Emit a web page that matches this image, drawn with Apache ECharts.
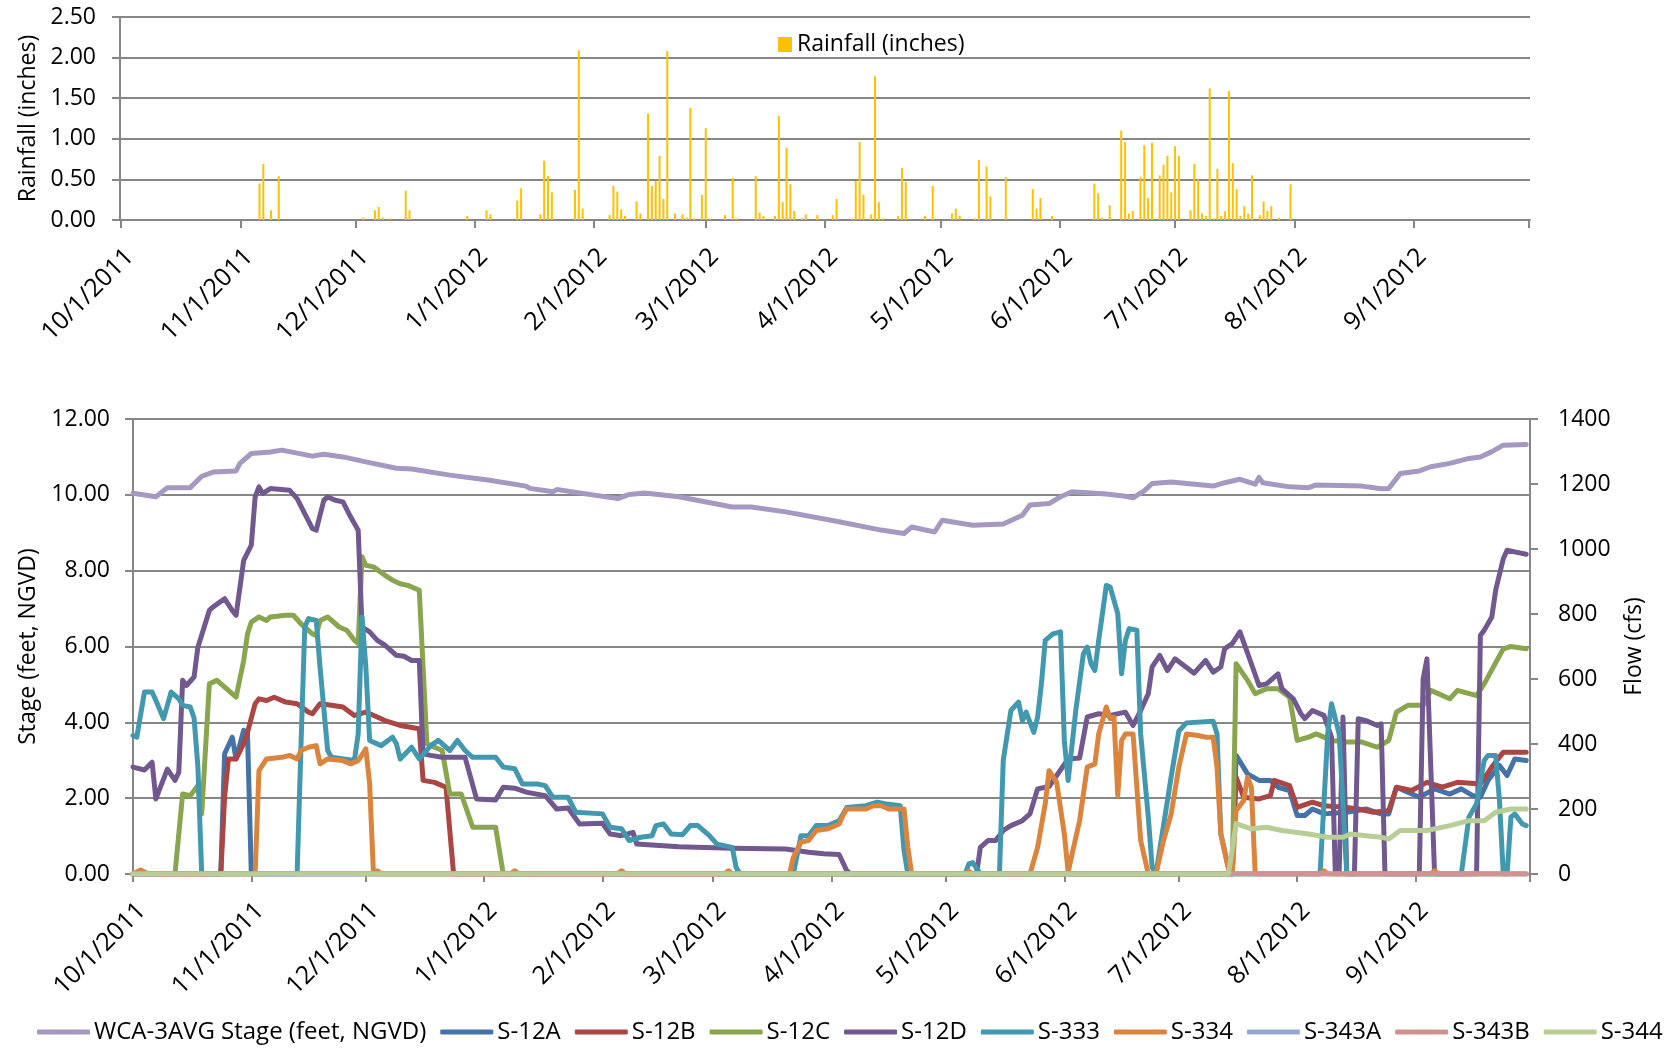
<!DOCTYPE html>
<html>
<head>
<meta charset="utf-8">
<title>WCA-3A rainfall, stage and structure flows</title>
<script src="https://cdn.jsdelivr.net/npm/echarts@6/dist/echarts.min.js"></script>
<style>
  html, body { margin: 0; padding: 0; background: #fff; }
  #main { width: 1671px; height: 1048px; }
</style>
</head>
<body>
<div id="main"></div>
<script>
// daily rainfall (inches), only days with rain
const rainfall = [
  ['2011-11-06',0.45],['2011-11-07',0.69],['2011-11-09',0.12],['2011-11-11',0.54],
  ['2011-12-03',0.03],['2011-12-06',0.12],['2011-12-07',0.16],['2011-12-08',0.03],['2011-12-10',0.02],['2011-12-14',0.36],['2011-12-15',0.12],['2011-12-30',0.05],
  ['2012-01-04',0.12],['2012-01-05',0.07],['2012-01-12',0.24],['2012-01-13',0.39],['2012-01-18',0.07],['2012-01-19',0.73],['2012-01-20',0.54],['2012-01-21',0.34],['2012-01-27',0.37],['2012-01-28',2.09],['2012-01-29',0.14],
  ['2012-02-05',0.06],['2012-02-06',0.42],['2012-02-07',0.35],['2012-02-08',0.13],['2012-02-09',0.05],['2012-02-12',0.23],['2012-02-13',0.08],['2012-02-15',1.31],['2012-02-16',0.42],['2012-02-17',0.48],['2012-02-18',0.79],['2012-02-19',0.26],['2012-02-20',2.08],['2012-02-22',0.08],['2012-02-24',0.07],['2012-02-25',0.03],['2012-02-26',1.38],['2012-02-27',0.02],['2012-02-29',0.31],
  ['2012-03-01',1.13],['2012-03-02',0.02],['2012-03-06',0.06],['2012-03-08',0.52],['2012-03-09',0.02],['2012-03-14',0.54],['2012-03-15',0.09],['2012-03-16',0.05],['2012-03-19',0.05],['2012-03-20',1.28],['2012-03-21',0.22],['2012-03-22',0.89],['2012-03-23',0.44],['2012-03-24',0.11],['2012-03-26',0.02],['2012-03-27',0.07],['2012-03-30',0.06],
  ['2012-04-03',0.06],['2012-04-04',0.26],['2012-04-08',0.02],['2012-04-09',0.48],['2012-04-10',0.96],['2012-04-11',0.31],['2012-04-13',0.07],['2012-04-14',1.77],['2012-04-15',0.22],['2012-04-16',0.02],['2012-04-20',0.05],['2012-04-21',0.64],['2012-04-22',0.47],['2012-04-27',0.05],['2012-04-29',0.42],
  ['2012-05-04',0.08],['2012-05-05',0.14],['2012-05-06',0.05],['2012-05-10',0.02],['2012-05-11',0.74],['2012-05-13',0.66],['2012-05-14',0.29],['2012-05-18',0.53],['2012-05-25',0.38],['2012-05-26',0.14],['2012-05-27',0.27],['2012-05-30',0.05],
  ['2012-06-10',0.45],['2012-06-11',0.33],['2012-06-12',0.03],['2012-06-14',0.18],['2012-06-17',1.10],['2012-06-18',0.96],['2012-06-19',0.08],['2012-06-20',0.11],['2012-06-22',0.53],['2012-06-23',0.92],['2012-06-24',0.27],['2012-06-25',0.95],['2012-06-27',0.55],['2012-06-28',0.68],['2012-06-29',0.79],['2012-06-30',0.34],
  ['2012-07-01',0.91],['2012-07-02',0.79],['2012-07-05',0.12],['2012-07-06',0.69],['2012-07-07',0.50],['2012-07-08',0.08],['2012-07-09',0.05],['2012-07-10',1.62],['2012-07-11',0.02],['2012-07-12',0.63],['2012-07-13',0.05],['2012-07-14',0.11],['2012-07-15',1.59],['2012-07-16',0.70],['2012-07-17',0.38],['2012-07-18',0.05],['2012-07-19',0.17],['2012-07-20',0.08],['2012-07-21',0.55],['2012-07-23',0.06],['2012-07-24',0.23],['2012-07-25',0.11],['2012-07-26',0.17],['2012-07-28',0.03],['2012-07-31',0.44]
];

// WCA-3 average stage (feet, NGVD)
const wcaStage = [
  ['2011-10-01',10.04],['2011-10-07',9.95],['2011-10-10',10.19],['2011-10-16',10.19],['2011-10-19',10.49],['2011-10-22',10.60],['2011-10-28',10.63],['2011-10-29',10.83],
  ['2011-11-01',11.09],['2011-11-06',11.13],['2011-11-09',11.18],['2011-11-17',11.02],['2011-11-20',11.07],['2011-11-25',11.00],
  ['2011-12-01',10.87],['2011-12-09',10.70],['2011-12-13',10.68],['2011-12-23',10.52],
  ['2012-01-02',10.39],['2012-01-12',10.23],['2012-01-13',10.17],['2012-01-19',10.08],['2012-01-20',10.14],
  ['2012-02-05',9.90],['2012-02-08',10.01],['2012-02-12',10.05],['2012-02-21',9.95],
  ['2012-03-06',9.68],['2012-03-11',9.68],['2012-03-20',9.55],
  ['2012-04-03',9.29],['2012-04-14',9.07],['2012-04-20',8.98],['2012-04-22',9.15],['2012-04-28',9.02],['2012-04-30',9.33],
  ['2012-05-08',9.20],['2012-05-16',9.23],['2012-05-21',9.46],['2012-05-23',9.73],['2012-05-28',9.77],['2012-05-31',9.95],
  ['2012-06-03',10.08],['2012-06-12',10.02],['2012-06-17',9.96],['2012-06-19',9.92],['2012-06-22',10.11],['2012-06-24',10.30],['2012-06-29',10.34],
  ['2012-07-10',10.23],['2012-07-13',10.32],['2012-07-17',10.41],['2012-07-21',10.28],['2012-07-22',10.46],['2012-07-23',10.32],['2012-07-30',10.21],
  ['2012-08-04',10.19],['2012-08-06',10.26],['2012-08-18',10.23],['2012-08-23',10.16],['2012-08-25',10.17],['2012-08-28',10.56],
  ['2012-09-02',10.63],['2012-09-05',10.74],['2012-09-10',10.83],['2012-09-15',10.96],['2012-09-18',11.00],['2012-09-21',11.14],['2012-09-24',11.31],['2012-09-30',11.33]
];

// structure flows (cfs)
const s12a = [
  ['2011-10-01',0],['2011-10-24',0],['2011-10-25',370],['2011-10-27',421],['2011-10-28',354],['2011-10-30',442],['2011-10-31',430],['2011-11-01',0],
  ['2012-07-15',0],['2012-07-16',365],['2012-07-19',308],['2012-07-22',288],['2012-07-25',288],['2012-07-27',267],['2012-07-30',257],
  ['2012-08-01',180],['2012-08-03',180],['2012-08-05',200],['2012-08-08',185],['2012-08-14',190],['2012-08-19',200],['2012-08-23',185],['2012-08-25',185],['2012-08-27',267],['2012-08-30',252],
  ['2012-09-02',236],['2012-09-06',262],['2012-09-10',246],['2012-09-13',262],['2012-09-16',241],['2012-09-18',236],['2012-09-20',288],['2012-09-23',334],['2012-09-25',303],['2012-09-27',354],['2012-09-30',349]
];
const s12b = [
  ['2011-10-01',0],['2011-10-24',0],['2011-10-25',236],['2011-10-26',354],['2011-10-28',354],['2011-10-30',401],['2011-10-31',436],
  ['2011-11-02',524],['2011-11-03',539],['2011-11-05',534],['2011-11-07',544],['2011-11-10',529],['2011-11-13',524],['2011-11-16',498],['2011-11-17',493],['2011-11-19',524],['2011-11-22',519],['2011-11-25',514],['2011-11-28',488],
  ['2011-12-01',498],['2011-12-04',483],['2011-12-06',472],['2011-12-10',457],['2011-12-15',447],['2011-12-16',288],['2011-12-19',282],['2011-12-22',267],['2011-12-24',0],
  ['2012-07-15',0],['2012-07-16',298],['2012-07-18',236],['2012-07-22',231],['2012-07-25',241],['2012-07-26',288],['2012-07-30',272],
  ['2012-08-01',205],['2012-08-05',221],['2012-08-08',210],['2012-08-14',205],['2012-08-17',200],['2012-08-21',190],['2012-08-25',195],['2012-08-27',267],['2012-08-31',257],
  ['2012-09-04',282],['2012-09-08',267],['2012-09-12',282],['2012-09-18',277],['2012-09-21',329],['2012-09-24',375],['2012-09-30',375]
];
const s12c = [
  ['2011-10-01',0],['2011-10-12',0],['2011-10-14',246],['2011-10-16',241],['2011-10-18',272],['2011-10-19',185],['2011-10-21',585],['2011-10-23',596],['2011-10-26',565],['2011-10-28',544],['2011-10-30',657],['2011-10-31',739],
  ['2011-11-01',775],['2011-11-03',791],['2011-11-05',780],['2011-11-06',791],['2011-11-10',796],['2011-11-12',796],['2011-11-14',770],['2011-11-17',739],['2011-11-18',734],['2011-11-19',780],['2011-11-21',791],['2011-11-24',760],['2011-11-26',750],['2011-11-28',719],['2011-11-29',709],['2011-11-30',976],
  ['2011-12-01',950],['2011-12-03',945],['2011-12-06',919],['2011-12-08',904],['2011-12-10',893],['2011-12-12',888],['2011-12-15',873],['2011-12-17',401],['2011-12-19',390],['2011-12-21',380],['2011-12-23',246],['2011-12-26',246],['2011-12-29',144],
  ['2012-01-04',144],['2012-01-06',0],
  ['2012-07-15',0],['2012-07-16',647],['2012-07-19',596],['2012-07-21',555],['2012-07-24',570],['2012-07-27',570],['2012-07-30',544],
  ['2012-08-01',411],['2012-08-04',421],['2012-08-06',431],['2012-08-10',411],['2012-08-14',406],['2012-08-18',406],['2012-08-22',390],['2012-08-25',411],['2012-08-27',498],['2012-08-30',519],
  ['2012-09-03',519],['2012-09-05',565],['2012-09-10',539],['2012-09-12',565],['2012-09-17',549],['2012-09-19',585],['2012-09-24',693],['2012-09-26',700],['2012-09-30',693]
];
const s12d = [
  ['2011-10-01',329],['2011-10-04',320],['2011-10-06',344],['2011-10-07',231],['2011-10-10',323],['2011-10-12',288],['2011-10-13',313],['2011-10-14',596],['2011-10-15',580],['2011-10-17',606],['2011-10-18',698],['2011-10-21',811],['2011-10-22',822],['2011-10-25',847],['2011-10-27',811],['2011-10-28',796],['2011-10-30',965],
  ['2011-11-01',1012],['2011-11-02',1160],['2011-11-03',1191],['2011-11-04',1171],['2011-11-06',1186],['2011-11-11',1181],['2011-11-13',1155],['2011-11-15',1109],['2011-11-17',1063],['2011-11-18',1058],['2011-11-20',1150],['2011-11-21',1160],['2011-11-23',1150],['2011-11-25',1145],['2011-11-27',1099],['2011-11-29',1058],['2011-11-30',760],
  ['2011-12-02',745],['2011-12-04',719],['2011-12-06',704],['2011-12-09',673],['2011-12-11',670],['2011-12-13',657],['2011-12-15',657],['2011-12-16',370],['2011-12-18',365],['2011-12-21',359],['2011-12-27',359],['2011-12-30',231],
  ['2012-01-04',228],['2012-01-06',267],['2012-01-09',264],['2012-01-12',252],['2012-01-17',241],['2012-01-20',200],['2012-01-23',203],['2012-01-26',154],
  ['2012-02-01',156],['2012-02-03',123],['2012-02-06',118],['2012-02-09',128],['2012-02-10',92],['2012-02-21',84],
  ['2012-03-06',79],['2012-03-20',77],['2012-03-26',67],['2012-03-30',62],['2012-04-03',60],['2012-04-05',10],['2012-04-06',0],
  ['2012-05-09',0],['2012-05-10',82],['2012-05-12',103],['2012-05-14',103],['2012-05-16',134],['2012-05-18',149],['2012-05-21',164],['2012-05-23',185],['2012-05-25',262],['2012-05-28',269],['2012-05-30',303],
  ['2012-06-02',354],['2012-06-05',357],['2012-06-07',483],['2012-06-10',493],['2012-06-13',488],['2012-06-17',498],['2012-06-19',457],['2012-06-21',503],['2012-06-23',555],['2012-06-24',637],['2012-06-26',673],['2012-06-28',626],['2012-06-30',662],
  ['2012-07-05',618],['2012-07-08',657],['2012-07-10',621],['2012-07-12',637],['2012-07-13',693],['2012-07-15',709],['2012-07-17',745],['2012-07-20',647],['2012-07-22',580],['2012-07-24',585],['2012-07-27',616],['2012-07-28',570],['2012-07-31',539],
  ['2012-08-02',493],['2012-08-03',478],['2012-08-05',503],['2012-08-08',488],['2012-08-10',421],['2012-08-11',0],['2012-08-12',0],['2012-08-13',483],['2012-08-14',0],['2012-08-16',0],['2012-08-17',478],['2012-08-19',472],['2012-08-22',457],['2012-08-23',462],['2012-08-24',0],
  ['2012-09-02',0],['2012-09-03',600],['2012-09-04',662],['2012-09-06',0],['2012-09-17',0],['2012-09-18',734],['2012-09-19',750],['2012-09-21',791],['2012-09-22',873],['2012-09-24',970],['2012-09-25',996],['2012-09-27',991],['2012-09-30',984]
];
const s333 = [
  ['2011-10-01',426],['2011-10-02',421],['2011-10-04',560],['2011-10-06',560],['2011-10-07',534],['2011-10-09',478],['2011-10-11',560],['2011-10-13',539],['2011-10-14',519],['2011-10-16',514],['2011-10-17',480],['2011-10-18',330],['2011-10-19',0],
  ['2011-11-13',0],['2011-11-14',390],['2011-11-15',760],['2011-11-16',786],['2011-11-18',780],['2011-11-19',637],['2011-11-21',380],['2011-11-22',359],['2011-11-28',349],['2011-11-29',431],['2011-11-30',791],
  ['2011-12-01',637],['2011-12-02',411],['2011-12-05',395],['2011-12-08',421],['2011-12-09',401],['2011-12-10',354],['2011-12-13',390],['2011-12-15',354],['2011-12-18',395],['2011-12-20',411],['2011-12-23',380],['2011-12-25',411],['2011-12-27',380],['2011-12-29',359],
  ['2012-01-04',359],['2012-01-06',329],['2012-01-09',324],['2012-01-11',277],['2012-01-15',277],['2012-01-17',272],['2012-01-19',236],['2012-01-23',236],['2012-01-25',190],
  ['2012-02-01',185],['2012-02-03',144],['2012-02-06',139],['2012-02-08',103],['2012-02-11',113],['2012-02-14',118],['2012-02-15',149],['2012-02-17',154],['2012-02-19',123],['2012-02-22',121],['2012-02-24',149],['2012-02-26',149],['2012-02-29',118],
  ['2012-03-02',92],['2012-03-06',82],['2012-03-07',21],['2012-03-08',0],['2012-03-22',0],['2012-03-24',118],['2012-03-26',118],['2012-03-28',149],['2012-03-31',149],
  ['2012-04-03',164],['2012-04-05',205],['2012-04-10',210],['2012-04-13',221],['2012-04-15',216],['2012-04-19',210],['2012-04-20',72],['2012-04-21',0],
  ['2012-05-06',0],['2012-05-07',31],['2012-05-08',35],['2012-05-10',0],['2012-05-15',0],['2012-05-16',350],['2012-05-18',503],['2012-05-20',529],['2012-05-21',472],['2012-05-22',498],['2012-05-24',436],['2012-05-25',483],['2012-05-26',585],['2012-05-27',719],['2012-05-29',739],['2012-05-31',745],
  ['2012-06-01',411],['2012-06-02',288],['2012-06-04',503],['2012-06-06',678],['2012-06-07',698],['2012-06-08',647],['2012-06-09',626],['2012-06-10',719],['2012-06-12',888],['2012-06-13',883],['2012-06-15',801],['2012-06-16',616],['2012-06-17',719],['2012-06-18',755],['2012-06-20',750],['2012-06-21',431],['2012-06-23',175],['2012-06-24',21],['2012-06-25',0],['2012-06-27',150],['2012-06-29',300],
  ['2012-07-01',440],['2012-07-03',465],['2012-07-10',470],['2012-07-11',431],['2012-07-12',123],['2012-07-14',20],['2012-07-15',0],
  ['2012-08-07',0],['2012-08-09',431],['2012-08-10',524],['2012-08-12',431],['2012-08-14',0],
  ['2012-09-13',0],['2012-09-15',175],['2012-09-17',216],['2012-09-19',349],['2012-09-20',365],['2012-09-22',365],['2012-09-23',226],['2012-09-24',0],['2012-09-25',0],['2012-09-26',175],['2012-09-27',185],['2012-09-29',154],['2012-09-30',149]
];
const s334 = [
  ['2011-10-01',0],['2011-10-03',12],['2011-10-05',0],
  ['2011-11-02',0],['2011-11-03',318],['2011-11-05',354],['2011-11-09',359],['2011-11-11',365],['2011-11-13',354],['2011-11-14',380],['2011-11-16',390],['2011-11-18',395],['2011-11-19',339],['2011-11-21',354],['2011-11-25',349],['2011-11-27',339],['2011-11-29',349],
  ['2011-12-01',385],['2011-12-02',277],['2011-12-03',0],['2011-12-04',10],['2011-12-05',0],
  ['2012-01-08',0],['2012-01-09',10],['2012-01-10',0],['2012-02-05',0],['2012-02-06',10],['2012-02-07',0],['2012-03-04',0],['2012-03-05',10],['2012-03-06',0],
  ['2012-03-21',0],['2012-03-22',51],['2012-03-24',98],['2012-03-26',103],['2012-03-28',134],['2012-03-31',139],
  ['2012-04-03',154],['2012-04-04',180],['2012-04-05',200],['2012-04-10',200],['2012-04-12',210],['2012-04-14',210],['2012-04-16',200],['2012-04-20',200],['2012-04-21',82],['2012-04-22',0],
  ['2012-05-06',0],['2012-05-07',8],['2012-05-08',0],['2012-05-23',0],['2012-05-25',82],['2012-05-27',216],['2012-05-28',318],['2012-05-30',282],
  ['2012-06-01',123],['2012-06-02',5],['2012-06-03',60],['2012-06-05',164],['2012-06-07',329],['2012-06-09',339],['2012-06-10',431],['2012-06-12',514],['2012-06-13',478],['2012-06-14',483],['2012-06-15',241],['2012-06-16',411],['2012-06-17',431],['2012-06-19',431],['2012-06-21',103],['2012-06-23',0],['2012-06-25',0],['2012-06-27',103],['2012-06-29',185],
  ['2012-07-01',329],['2012-07-03',431],['2012-07-06',426],['2012-07-08',421],['2012-07-10',421],['2012-07-11',329],['2012-07-12',123],['2012-07-14',15],['2012-07-15',0],['2012-07-16',195],['2012-07-18',226],['2012-07-19',298],['2012-07-20',267],['2012-07-21',0],
  ['2012-08-07',0],['2012-08-08',10],['2012-08-09',0],['2012-09-05',0],['2012-09-06',10],['2012-09-07',0],['2012-09-30',0]
];
const s343a = [['2011-10-01',0],['2012-09-30',0]];
const s343b = [['2011-10-01',0],['2012-09-30',0]];
const s344 = [
  ['2011-10-01',0],['2012-07-14',0],['2012-07-16',155],['2012-07-20',139],['2012-07-24',144],['2012-07-28',134],
  ['2012-08-04',123],['2012-08-09',113],['2012-08-13',113],['2012-08-15',123],['2012-08-19',118],['2012-08-23',113],['2012-08-25',108],['2012-08-28',134],
  ['2012-09-04',134],['2012-09-10',149],['2012-09-15',164],['2012-09-19',164],['2012-09-22',190],['2012-09-26',200],['2012-09-30',200]
];

const lineNames = ['WCA-3AVG Stage (feet, NGVD)', 'S-12A', 'S-12B', 'S-12C', 'S-12D', 'S-333', 'S-334', 'S-343A', 'S-343B', 'S-344'];
const lineData = [wcaStage, s12a, s12b, s12c, s12d, s333, s334, s343a, s343b, s344];
const lineColors = ['#A598C1', '#4572A7', '#AA4643', '#89A54E', '#71588F', '#4198AF', '#DB843D', '#93A9CF', '#D19392', '#B9CD96'];

const FONT = '"Open Sans", "DejaVu Sans", sans-serif';
const GRID_GRAY = '#868686';
const DAY = 86400000;
const START = new Date(2011, 9, 1).getTime();
const END = new Date(2012, 9, 1).getTime();

function dateLabel(v) {
  const d = new Date(v);
  if (v >= END) return '';
  return (d.getMonth() + 1) + '/' + d.getDate() + '/' + d.getFullYear();
}

function timeAxis(gridIndex) {
  return {
    type: 'time',
    gridIndex: gridIndex,
    min: START,
    max: END,
    splitNumber: 12,
    minInterval: 28 * DAY,
    maxInterval: 31 * DAY,
    axisLine: { lineStyle: { color: GRID_GRAY, width: 2 } },
    axisTick: { show: true, length: 8, lineStyle: { color: GRID_GRAY, width: 2 } },
    splitLine: { show: false },
    axisLabel: {
      rotate: 45, margin: 24, verticalAlign: 'top', color: '#000', fontSize: 25, fontFamily: FONT,
      formatter: dateLabel, hideOverlap: false, showMaxLabel: false
    }
  };
}

function valueAxis(gridIndex, opts) {
  return Object.assign({
    type: 'value',
    gridIndex: gridIndex,
    nameLocation: 'middle',
    nameRotate: 90,
    nameTextStyle: { fontSize: 23, color: '#000', fontFamily: FONT },
    axisLine: { show: true, lineStyle: { color: GRID_GRAY, width: 2 } },
    axisTick: { show: true, length: 8, lineStyle: { color: GRID_GRAY, width: 2 } },
    splitLine: { show: false }
  }, opts);
}

const chart = echarts.init(document.getElementById('main'));

const option = {
  animation: false,
  backgroundColor: '#fff',
  textStyle: { fontFamily: FONT },
  grid: [
    { left: 120, right: 141, top: 17, height: 203 },
    { left: 133, right: 141, top: 419, height: 455 }
  ],
  legend: [
    {
      data: ['Rainfall (inches)'],
      left: 773, top: 28,
      icon: 'rect', itemWidth: 14, itemHeight: 15, itemGap: 8,
      selectedMode: false,
      textStyle: { fontSize: 23, color: '#000', fontFamily: FONT }
    },
    {
      data: lineNames,
      left: 32, top: 1015,
      icon: 'roundRect', itemWidth: 53, itemHeight: 5, itemGap: 14,
      selectedMode: false,
      textStyle: { fontSize: 24, color: '#000', fontFamily: FONT, padding: [0, 0, 0, -1] }
    }
  ],
  xAxis: [timeAxis(0), timeAxis(1)],
  yAxis: [
    valueAxis(0, {
      min: 0, max: 2.5, interval: 0.5,
      name: 'Rainfall (inches)', nameGap: 79,
      axisLabel: { formatter: v => v.toFixed(2), margin: 24, fontSize: 23, color: '#000', fontFamily: FONT },
      splitLine: { show: true, lineStyle: { color: GRID_GRAY, width: 2 } }
    }),
    valueAxis(1, {
      min: 0, max: 12, interval: 2,
      name: 'Stage (feet, NGVD)', nameGap: 93,
      axisLabel: { formatter: v => v.toFixed(2), margin: 23, fontSize: 23, color: '#000', fontFamily: FONT },
      splitLine: { show: true, lineStyle: { color: GRID_GRAY, width: 2 } }
    }),
    valueAxis(1, {
      min: 0, max: 1400, interval: 200, position: 'right',
      name: 'Flow (cfs)', nameGap: 93,
      axisLabel: { formatter: v => String(v), margin: 28, fontSize: 23, color: '#000', fontFamily: FONT }
    })
  ],
  series: [
    {
      name: 'Rainfall (inches)',
      type: 'bar',
      xAxisIndex: 0, yAxisIndex: 0,
      barWidth: 2,
      itemStyle: { color: '#FFC000' },
      data: rainfall
    }
  ].concat(lineNames.map((name, i) => ({
    name: name,
    type: 'line',
    xAxisIndex: 1,
    yAxisIndex: i === 0 ? 1 : 2,
    showSymbol: false,
    symbol: 'none',
    color: lineColors[i],
    lineStyle: { width: 5, color: lineColors[i], join: 'round', cap: 'round' },
    data: lineData[i]
  })))
};

chart.setOption(option);
</script>
</body>
</html>
